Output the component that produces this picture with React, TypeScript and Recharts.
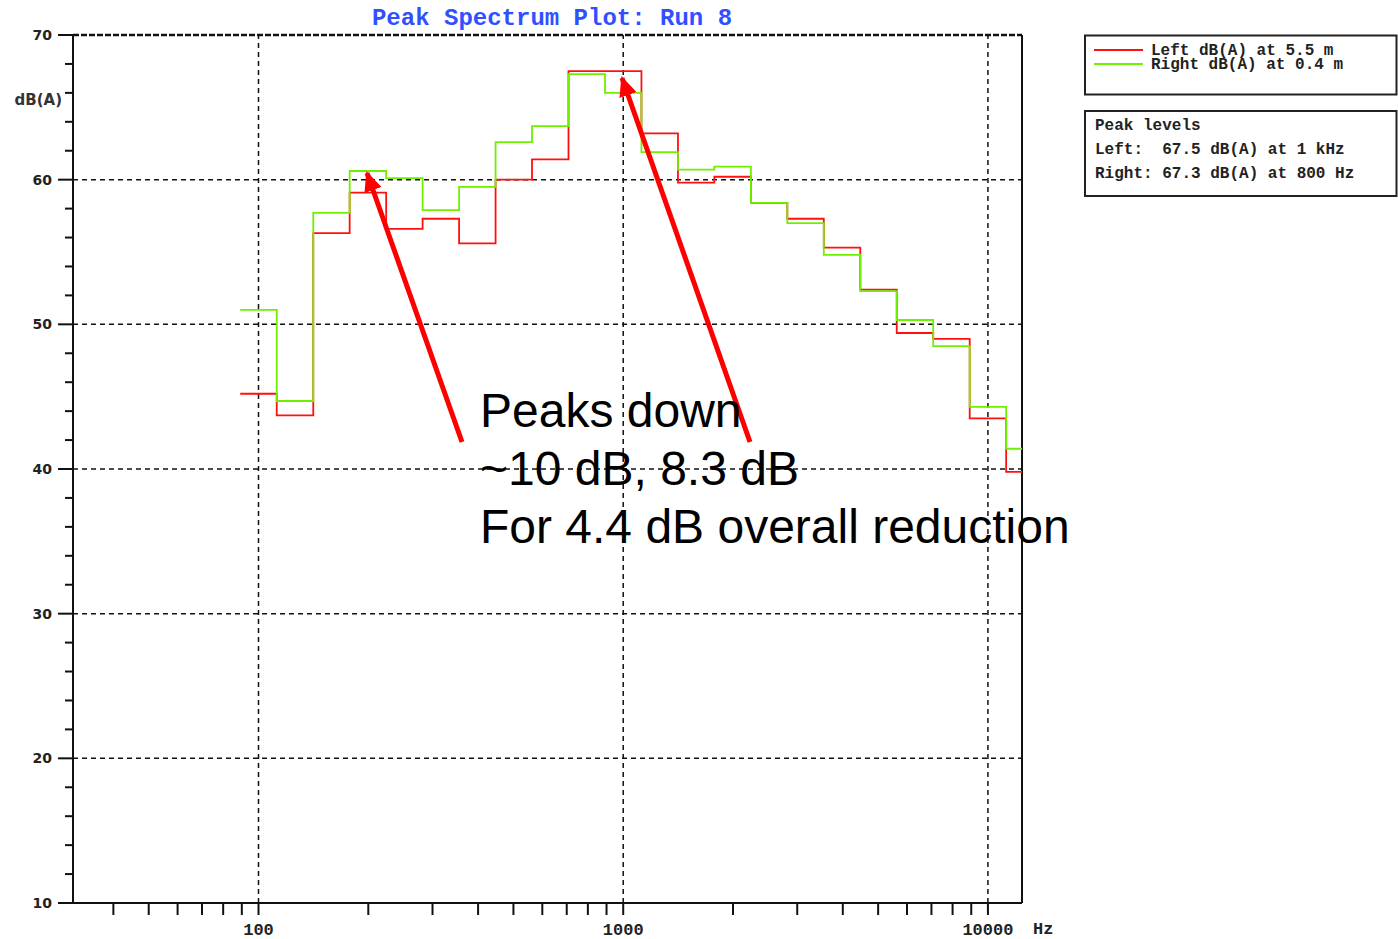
import React from 'react';
import { LineChart, Line, XAxis, YAxis, ReferenceLine } from 'recharts';

// 1/3-octave band lower edges (Hz); last value is the upper edge of the final band
const bandEdges = [89.1, 112.2, 141.3, 177.8, 223.9, 281.8, 354.8, 446.7, 562.3, 707.9, 891.3, 1122, 1413, 1778, 2239, 2818, 3548, 4467, 5623, 7079, 8913, 11220, 14125];
// Band centres: 100 125 160 200 250 315 400 500 630 800 1k 1.25k 1.6k 2k 2.5k 3.15k 4k 5k 6.3k 8k 10k 12.5k
const leftDb = [45.2, 43.7, 56.3, 59.1, 56.6, 57.3, 55.6, 60.0, 61.4, 67.5, 67.5, 63.2, 59.8, 60.2, 58.4, 57.3, 55.3, 52.4, 49.4, 49.0, 43.5, 39.8];
const rightDb = [51.0, 44.7, 57.7, 60.6, 60.1, 57.9, 59.5, 62.6, 63.7, 67.3, 66.0, 61.9, 60.7, 60.9, 58.4, 57.0, 54.8, 52.3, 50.3, 48.5, 44.3, 41.4];

const xDomain = [31, 12400];
const yDomain = [10, 70];
const xTicks = [40, 50, 60, 70, 80, 90, 100, 200, 300, 400, 500, 600, 700, 800, 900, 1000, 2000, 3000, 4000, 5000, 6000, 7000, 8000, 9000, 10000];
const xLabelTicks = [100, 1000, 10000];
const yTicks = [10, 12, 14, 16, 18, 20, 22, 24, 26, 28, 30, 32, 34, 36, 38, 40, 42, 44, 46, 48, 50, 52, 54, 56, 58, 60, 62, 64, 66, 68, 70];
const yGrid = [20, 30, 40, 50, 60];
const xGrid = [100, 1000, 10000];

const seriesNames = ['Left dB(A) at 5.5 m', 'Right dB(A) at 0.4 m'];
const seriesColors = ['#ff1010', '#70f000'];
const peakLines = ['Peak levels', 'Left:  67.5 dB(A) at 1 kHz', 'Right: 67.3 dB(A) at 800 Hz'];
const titleText = 'Peak Spectrum Plot: Run 8';
const noteLines = ['Peaks down', '~10 dB, 8.3 dB', 'For 4.4 dB overall reduction'];

const data = bandEdges.map((f, i) => {
  const k = Math.min(i, leftDb.length - 1);
  return { f, left: leftDb[k], right: rightDb[k] };
});

const mono = '"Liberation Mono", "DejaVu Sans Mono", monospace';

const XTick = (props: any) => {
  const { x, y, payload } = props;
  const v = payload.value;
  return (
    <g>
      <line x1={x} y1={y} x2={x} y2={y + 12} stroke="#111" strokeWidth={2} />
      {xLabelTicks.includes(v) && (
        <text x={x} y={y + 32} textAnchor="middle" fontFamily={mono} fontWeight="bold" fontSize={17} fill="#222">
          {String(v)}
        </text>
      )}
    </g>
  );
};

const YTick = (props: any) => {
  const { x, y, payload } = props;
  const v = payload.value;
  const major = v % 10 === 0;
  return (
    <g>
      <line x1={x - (major ? 15 : 8)} y1={y} x2={x} y2={y} stroke="#111" strokeWidth={2} />
      {major && (
        <text x={x - 21} y={y + 5} textAnchor="end" fontFamily='"DejaVu Sans", sans-serif' fontWeight="bold" fontSize={14} fill="#222">
          {String(v)}
        </text>
      )}
    </g>
  );
};

export default function App() {
  return (
    <div style={{ position: 'fixed', left: 0, top: 0, width: 1398, height: 939, background: '#fff', overflow: 'hidden' }}>
      <LineChart
        width={1398}
        height={939}
        data={data}
        margin={{ top: 35, right: 376, bottom: 0, left: 0 }}
      >
        <XAxis
          dataKey="f"
          type="number"
          scale="log"
          domain={xDomain}
          allowDataOverflow
          ticks={xTicks}
          interval={0}
          height={36}
          tickSize={0}
          tickMargin={0}
          tickLine={false}
          tick={<XTick />}
          axisLine={{ stroke: '#111', strokeWidth: 2 }}
        />
        <YAxis
          type="number"
          domain={yDomain}
          allowDataOverflow
          ticks={yTicks}
          interval={0}
          width={73}
          tickSize={0}
          tickMargin={0}
          tickLine={false}
          tick={<YTick />}
          axisLine={{ stroke: '#111', strokeWidth: 2 }}
        />
        {yGrid.map((v) => (
          <ReferenceLine key={'y' + v} y={v} stroke="#111" strokeWidth={1.5} strokeDasharray="5 4" />
        ))}
        {xGrid.map((v) => (
          <ReferenceLine key={'x' + v} x={v} stroke="#111" strokeWidth={1.5} strokeDasharray="5 4" />
        ))}
        <ReferenceLine y={yDomain[1]} stroke="#111" strokeWidth={2.5} strokeDasharray="6 2" />
        <ReferenceLine x={xDomain[1]} stroke="#111" strokeWidth={2} />
        <Line
          type="stepAfter"
          dataKey="left"
          name={seriesNames[0]}
          stroke={seriesColors[0]}
          strokeWidth={1.8}
          dot={false}
          activeDot={false}
          isAnimationActive={false}
        />
        <Line
          type="stepAfter"
          dataKey="right"
          name={seriesNames[1]}
          stroke={seriesColors[1]}
          strokeWidth={1.8}
          dot={false}
          activeDot={false}
          isAnimationActive={false}
        />
      </LineChart>

      <svg
        width={1398}
        height={939}
        style={{ position: 'absolute', left: 0, top: 0, pointerEvents: 'none' }}
      >
        <defs>
          <marker id="arrowHead" markerUnits="userSpaceOnUse" markerWidth={20} markerHeight={18} refX={18} refY={9} orient="auto">
            <path d="M0,0 L20,9 L0,18 Z" fill="#ff0000" />
          </marker>
        </defs>
        {/* title */}
        <text x={552} y={25} textAnchor="middle" fontFamily={mono} fontWeight="bold" fontSize={24} fill="#3050ff">
          {titleText}
        </text>
        {/* axis labels */}
        <text x={62} y={105} textAnchor="end" fontFamily='"DejaVu Sans", sans-serif' fontWeight="bold" fontSize={15} fill="#333">
          dB(A)
        </text>
        <text x={1033} y={934} fontFamily={mono} fontWeight="bold" fontSize={17} fill="#222">
          Hz
        </text>

        {/* legend box */}
        <rect x={1085} y={35.5} width={311.5} height={59} fill="#fff" stroke="#222" strokeWidth={2} />
        {seriesNames.map((n, i) => (
          <g key={n}>
            <line x1={1094} x2={1143} y1={50 + i * 14} y2={50 + i * 14} stroke={seriesColors[i]} strokeWidth={2} />
            <text x={1151} y={55 + i * 14} fontFamily={mono} fontWeight="bold" fontSize={16} fill="#222">
              {n}
            </text>
          </g>
        ))}
        {/* peak levels box */}
        <rect x={1085} y={111} width={311.5} height={85} fill="#fff" stroke="#222" strokeWidth={2} />
        {peakLines.map((t, i) => (
          <text key={t} x={1095} y={130 + i * 24} fontFamily={mono} fontWeight="bold" fontSize={16} fill="#222" style={{ whiteSpace: 'pre' }}>
            {t}
          </text>
        ))}

        {/* arrows */}
        <line x1={462} y1={442} x2={367} y2={173} stroke="#ff0000" strokeWidth={5} markerEnd="url(#arrowHead)" />
        <line x1={750} y1={442} x2={622} y2={78} stroke="#ff0000" strokeWidth={5} markerEnd="url(#arrowHead)" />

        {/* annotation */}
        {noteLines.map((t, i) => (
          <text key={t} x={480} y={427 + i * 58} fontFamily='"Liberation Sans", Arial, sans-serif' fontSize={48} fill="#000">
            {t}
          </text>
        ))}
      </svg>
    </div>
  );
}
